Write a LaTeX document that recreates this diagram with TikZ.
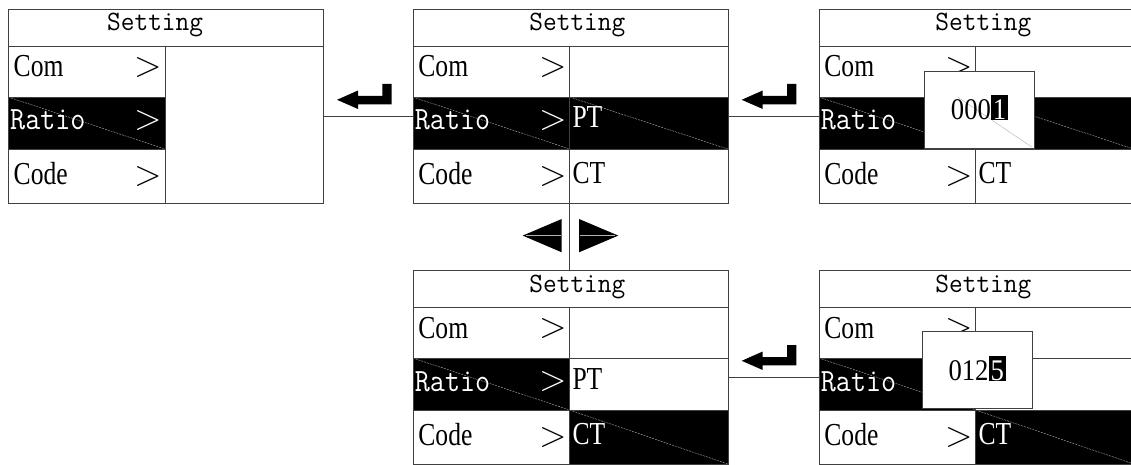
\documentclass[tikz,border=0pt]{standalone}
\usepackage{fontspec}
\newfontfamily\condfont[FakeStretch=0.8]{Liberation Serif}
\newfontfamily\digfont[FakeStretch=0.89]{Liberation Serif}
\newfontfamily\headfont[FakeStretch=0.95]{Latin Modern Mono}
\newfontfamily\ratiofont[FakeStretch=0.9]{Latin Modern Mono}
\newcommand\gridlines[1]{%
  \draw[frameline] (0,37) -- (315,37);
  \draw[frameline] (0,88) -- (157,88) (0,140) -- (157,140);
  \draw[frameline] (157,37) -- (157,194);
  \ifnum#1=1 \draw[frameline] (157,88) -- (315,88) (157,140) -- (315,140);\fi
  \coordinate (l) at (0,107);
  \coordinate (r) at (315,107);
  \coordinate (t) at (157,0);
  \coordinate (b) at (157,194);
}
\begin{document}
\begin{tikzpicture}[x=1pt,y=-1pt,
  frameline/.style={draw=black!75, line width=0.9pt},
  screenbox/.style={frameline, rectangle, inner sep=0, minimum width=315pt, minimum height=194pt, anchor=north west},
  popbox/.style={frameline, fill=white, rectangle, inner sep=0, minimum width=110pt, minimum height=77pt, anchor=north west},
  artifact/.style={draw=gray!60, line width=0.4pt, dash pattern=on 2pt off 1pt},
  lbl/.style={inner sep=0, anchor=base west, font=\condfont\fontsize{32}{32}\selectfont},
  ratiotxt/.style={inner sep=0, anchor=base west, font=\ratiofont\fontsize{32.5}{32.5}\selectfont},
  headtxt/.style={inner sep=0, anchor=base west, font=\headfont\fontsize{28}{28}\selectfont},
  gt/.style={inner sep=0, anchor=center, font=\fontsize{36}{36}\selectfont},
  digit/.style={inner sep=0, anchor=base west, font=\digfont\fontsize{30}{30}\selectfont},
  cursor/.style={digit, fill=black, text=white, inner xsep=1.6pt, inner ysep=0pt, text height=24pt, text depth=0.8pt},
  enterkey/.pic={\fill (0,15.8) -- (21,6.5) -- (21,12) -- (45.3,12) -- (45.3,0) -- (54.7,0) -- (54.7,20.3) -- (21,20.3) -- (21,25) -- cycle;}
]
\clip (0,0) rectangle (1131,465);

% ---------- screen 1 ----------
\begin{scope}[shift={(8,9)}, name prefix=s1-]
  \fill (0,88) rectangle (157,140);
  \draw[artifact] (0,88) -- (157,140);
  \node[screenbox] (frame) at (0,0) {};
  \gridlines{0}
  \node[headtxt] (head) at (99,22) {Setting};
  \node[lbl] (com) at (5.5,68) {Com};
  \node[ratiotxt, text=white] (ratio) at (2,121) {Ratio};
  \node[lbl] (code) at (5.5,175.5) {Code};
  \node[gt] (g1) at (140.5,58.5) {>};
  \node[gt, text=white] (g2) at (140.5,111.5) {>};
  \node[gt] (g3) at (140.5,167.5) {>};
\end{scope}

% ---------- screen 2 ----------
\begin{scope}[shift={(412.7,9)}, name prefix=s2-]
  \fill (0,88) rectangle (315,140);
  \draw[artifact] (0,88) -- (157,140) (157,88) -- (315,140);
  \node[screenbox] (frame) at (0,0) {};
  \gridlines{1}
  \node[headtxt] (head) at (116.5,22) {Setting};
  \node[lbl] (com) at (5.5,68) {Com};
  \node[ratiotxt, text=white] (ratio) at (2,121) {Ratio};
  \node[lbl] (code) at (5.5,175.5) {Code};
  \node[gt] (g1) at (140.5,58.5) {>};
  \node[gt, text=white] (g2) at (140.5,111.5) {>};
  \node[gt] (g3) at (140.5,167.5) {>};
  \node[lbl, text=white] (pt) at (159.6,119) {PT};
  \node[lbl] (ct) at (159.6,174.5) {CT};
\end{scope}

% ---------- screen 3 ----------
\begin{scope}[shift={(818.7,9)}, name prefix=s3-]
  \fill (0,88) rectangle (315,140);
  \draw[artifact] (0,88) -- (157,140) (157,88) -- (315,140);
  \node[screenbox] (frame) at (0,0) {};
  \gridlines{1}
  \node[headtxt] (head) at (116.5,22) {Setting};
  \node[lbl] (com) at (5.5,68) {Com};
  \node[ratiotxt, text=white] (ratio) at (2,121) {Ratio};
  \node[lbl] (code) at (5.5,175.5) {Code};
  \node[gt] (g1) at (140.5,58.5) {>};
  \node[gt] (g3) at (140.5,167.5) {>};
  \node[lbl] (ct) at (159.6,174.5) {CT};
  \node[popbox] (pop) at (105.3,62) {};
  \draw[artifact, dash pattern=on 3pt off 0pt] (139,88) -- (213,138);
  \node[digit] (val) at (132,110.5) {000};
  \node[cursor] (cur) at (val.base east) {1};
\end{scope}

% ---------- screen 4 ----------
\begin{scope}[shift={(412.7,270)}, name prefix=s4-]
  \fill (0,88) rectangle (157,140);
  \fill (157,140) rectangle (315,194);
  \draw[artifact] (0,88) -- (157,140) (157,140) -- (315,194);
  \node[screenbox] (frame) at (0,0) {};
  \gridlines{1}
  \node[headtxt] (head) at (116.5,22) {Setting};
  \node[lbl] (com) at (5.5,68) {Com};
  \node[ratiotxt, text=white] (ratio) at (2,121) {Ratio};
  \node[lbl] (code) at (5.5,175.5) {Code};
  \node[gt] (g1) at (140.5,58.5) {>};
  \node[gt, text=white] (g2) at (140.5,111.5) {>};
  \node[gt] (g3) at (140.5,167.5) {>};
  \node[lbl] (pt) at (159.6,119) {PT};
  \node[lbl, text=white] (ct) at (159.6,174.5) {CT};
\end{scope}

% ---------- screen 5 ----------
\begin{scope}[shift={(818.7,270)}, name prefix=s5-]
  \fill (0,88) rectangle (157,140);
  \fill (157,140) rectangle (315,194);
  \draw[artifact] (0,88) -- (157,140) (157,140) -- (315,194);
  \node[screenbox] (frame) at (0,0) {};
  \gridlines{1}
  \node[headtxt] (head) at (116.5,22) {Setting};
  \node[lbl] (com) at (5.5,68) {Com};
  \node[ratiotxt, text=white] (ratio) at (2,121) {Ratio};
  \node[lbl] (code) at (5.5,175.5) {Code};
  \node[gt] (g1) at (140.5,58.5) {>};
  \node[gt] (g3) at (140.5,167.5) {>};
  \node[lbl, text=white] (ct) at (159.6,174.5) {CT};
  \node[popbox] (pop) at (103,61.3) {};
  \node[digit] (val) at (129.6,110) {012};
  \node[cursor] (cur) at (val.base east) {5};
\end{scope}

% ---------- connectors ----------
\draw[frameline] (s1-r) -- (s2-l);
\draw[frameline] (s2-r) -- (s3-l);
\draw[frameline] (s4-r) -- (s5-l);
\draw[frameline] (s2-b) -- (s4-t);

% ---------- keys ----------
\pic (k1) at (337,84) {enterkey};
\pic (k2) at (741.7,84) {enterkey};
\pic (k3) at (741.7,345) {enterkey};
\fill (522.7,235.6) -- (561.7,219) -- (561.7,252.3) -- cycle;
\fill (618.3,235.6) -- (579,219) -- (579,252.3) -- cycle;
\draw[artifact, dash pattern=on 3pt off 0pt] (526,235.6) -- (561,235.6) (580,235.6) -- (615,235.6);
\end{tikzpicture}
\end{document}
